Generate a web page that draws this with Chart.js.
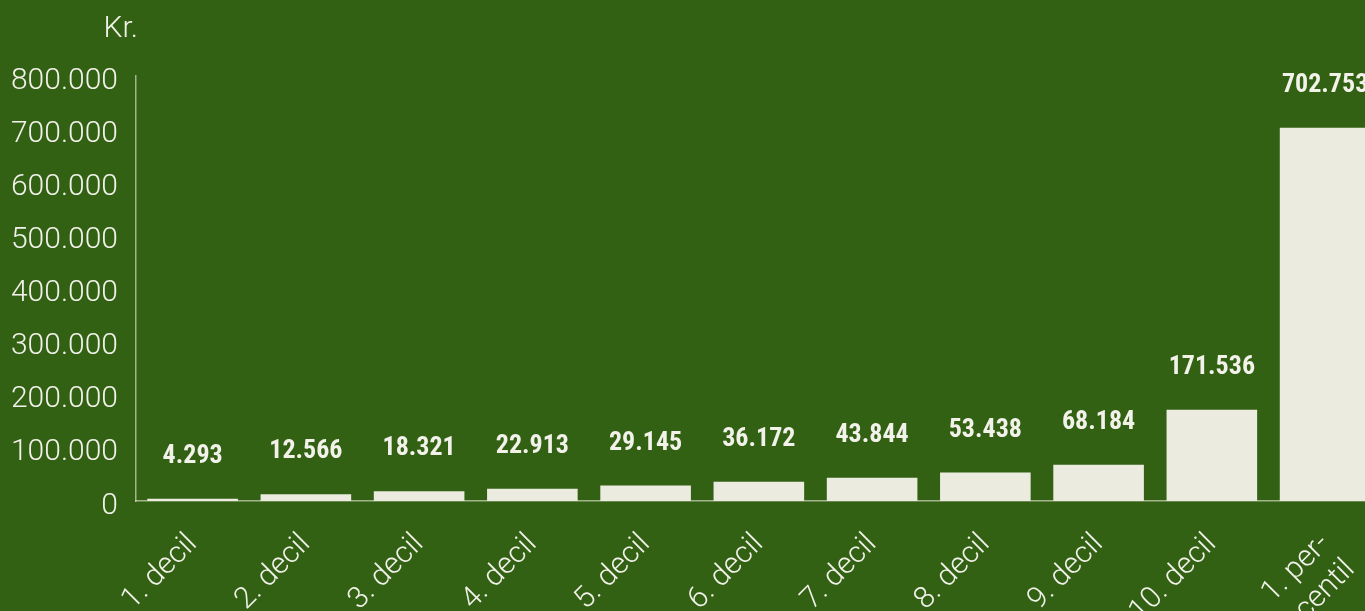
<!DOCTYPE html>
<html>
<head>
<meta charset="utf-8">
<script src="https://cdn.jsdelivr.net/npm/chart.js@4"></script>
<style>
  html, body { margin: 0; padding: 0; background: #336114; overflow: hidden; }
  canvas { display: block; }
</style>
</head>
<body>
<canvas id="chart" width="1402" height="611"></canvas>
<script>
const categories = ['1. decil', '2. decil', '3. decil', '4. decil', '5. decil', '6. decil', '7. decil', '8. decil', '9. decil', '10. decil', ['1. per-', 'centil']];
const values = [4293, 12566, 18321, 22913, 29145, 36172, 43844, 53438, 68184, 171536, 702753];
const yTicks = [0, 100000, 200000, 300000, 400000, 500000, 600000, 700000, 800000];
const unitLabel = 'Kr.';

const barColor = '#ebebdf';
const textColor = '#f2f2ea';
const lightFont = 'Roboto, "Noto Sans", sans-serif';
const boldFont = '"Liberation Sans Narrow", "Roboto Condensed", Roboto, sans-serif';

const fmt = n => n.toString().replace(/\B(?=(\d{3})+(?!\d))/g, '.');

// value labels above bars + unit label over the y axis
const extras = {
  id: 'extras',
  afterDatasetsDraw(chart) {
    const { ctx, chartArea } = chart;
    ctx.save();
    ctx.fillStyle = textColor;
    ctx.textAlign = 'center';
    ctx.textBaseline = 'alphabetic';
    ctx.font = `bold 26px ${boldFont}`;
    chart.getDatasetMeta(0).data.forEach((bar, i) => {
      ctx.fillText(fmt(values[i]), bar.x, bar.y - 36);
    });
    ctx.textAlign = 'right';
    ctx.font = `300 30px ${lightFont}`;
    ctx.fillText(unitLabel, chartArea.left + 2, 37);
    ctx.restore();
  },
};

new Chart(document.getElementById('chart'), {
  type: 'bar',
  data: {
    labels: categories,
    datasets: [{
      data: values,
      backgroundColor: barColor,
      barPercentage: 0.8,
      categoryPercentage: 1,
    }],
  },
  options: {
    responsive: false,
    animation: false,
    layout: { padding: { top: 76, right: 0, left: 0, bottom: 0 } },
    plugins: { legend: { display: false }, tooltip: { enabled: false } },
    scales: {
      x: {
        grid: { display: false, drawTicks: false },
        border: { color: 'rgba(235,235,223,0.6)', width: 1.5 },
        ticks: {
          color: textColor,
          font: { family: lightFont, size: 30, weight: 300 },
          maxRotation: 45,
          minRotation: 45,
          autoSkip: false,
          padding: 26,
        },
        afterFit: scale => { scale.height = 110; },
      },
      y: {
        min: 0,
        max: 800000,
        afterBuildTicks: scale => { scale.ticks = yTicks.map(v => ({ value: v })); },
        grid: { display: false, drawTicks: false },
        border: { color: 'rgba(235,235,223,0.6)', width: 1.5 },
        ticks: {
          color: textColor,
          font: { family: lightFont, size: 30, weight: 300 },
          padding: 18,
          labelOffset: 5,
          callback: v => fmt(v),
        },
        afterFit: scale => { scale.width = 136; },
      },
    },
  },
  plugins: [extras],
});
</script>
</body>
</html>
